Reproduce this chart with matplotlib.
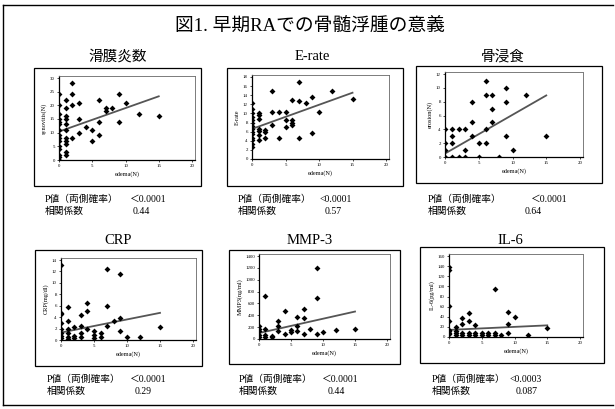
import numpy as np
import matplotlib
matplotlib.use("Agg")
import matplotlib.pyplot as plt
from matplotlib.patches import Rectangle
from matplotlib.lines import Line2D

W, H = 615, 409
plt.rcParams['font.family'] = ['Liberation Serif', 'Noto Sans CJK JP']

# --- data -------------------------------------------------------------
syn_x = [0, 0, 0, 0, 0, 0, 0, 0, 0, 0, 0, 0, 0, 0, 0,
         1, 1, 1, 1, 1, 1, 1, 1, 1, 1, 1,
         2, 2, 2, 2, 3, 3, 3, 4, 5, 5, 6, 6, 6, 7, 7, 8, 9, 9, 10, 12, 15]
syn_y = [24, 20, 17, 15, 14, 13, 11, 9, 8, 7, 5, 4, 2, 1, 0,
         22, 19, 16, 15, 13, 11, 8, 7, 6, 3, 2,
         28, 24, 20, 8, 21, 15, 10, 12, 11, 7, 22, 14, 9, 19, 18, 19, 24, 14, 21, 17, 16]

esr_x = [0, 0, 0, 0, 0, 0, 0, 0, 0, 0, 0, 0, 0, 0,
         1, 1, 1, 1, 1, 1, 1,
         2, 2, 2, 3, 3, 3, 4, 4, 5, 5, 5, 6, 6, 6, 6, 7, 7, 7, 8, 9, 9, 10, 12, 15]
esr_y = [12.4, 11, 10, 9.3, 8.5, 7.8, 7.2, 6.6, 6, 5.5, 4.7, 4.2, 3.4, 2.6,
         10, 9.7, 8.7, 6.6, 6.1, 5.3, 4.2,
         6.3, 6, 4.7, 14.9, 10.4, 7.4, 10.4, 4.7, 10.4, 8.5, 7.1, 13, 8.5, 7.8, 7.4,
         16.9, 12.8, 4.5, 12.2, 13.6, 5.8, 10.4, 14.9, 13.1]

ero_x = [0, 0, 0, 0, 1, 1, 1, 1, 2, 2, 3, 3, 3, 4, 4, 4, 5, 5,
         6, 6, 6, 6, 7, 7, 7, 8, 9, 9, 9, 10, 12, 15]
ero_y = [4, 2, 1, 0, 4, 3, 2, 0, 4, 0, 4, 1, 0, 8, 5, 3, 2, 0,
         11, 9, 4, 2, 9, 7, 5, 0, 10, 8, 3, 1, 9, 3]

crp_x = [0, 0, 0, 0, 0, 0, 0, 0, 1, 1, 1, 1, 1, 1, 2, 2, 2, 3, 3, 3, 3,
         4, 4, 4, 5, 5, 5, 6, 6, 7, 7, 7, 8, 9, 9, 9, 10, 12, 15]
crp_y = [13.1, 4.8, 4.5, 2.9, 1.9, 1.3, 0.7, 0.3, 5.8, 3.4, 2, 1.2, 0.5, 0.1,
         2.3, 0.7, 0.3, 4.3, 2.5, 1.3, 0.5, 6.4, 5.1, 1.9, 1.6, 0.9, 0.3,
         1.3, 0.5, 12.4, 6, 2.5, 3.4, 11.6, 3.9, 1.6, 0.5, 0.6, 2.2]

mmp_x = [0, 0, 0, 0, 0, 1, 1, 1, 1, 2, 2, 3, 3, 3, 4, 4, 5, 5,
         6, 6, 6, 7, 7, 7, 8, 9, 9, 9, 10, 12, 15]
mmp_y = [223, 173, 128, 73, 33, 725, 173, 73, 33, 56, 33, 312, 223, 140,
         474, 89, 156, 117, 379, 212, 140, 502, 357, 84, 173, 1205, 686, 89,
         123, 156, 173]

il6_x = [0, 0, 0, 0, 0, 0, 0, 0, 1, 1, 1, 1, 2, 2, 2, 2, 3, 3, 3, 3,
         4, 4, 4, 5, 5, 6, 6, 7, 7, 7, 8, 9, 9, 9, 10, 12, 15]
il6_y = [139, 132, 61, 31, 14, 11, 8, 5, 19, 11, 7, 4, 37, 26, 8, 4,
         47, 31, 8, 4, 23, 8, 4, 8, 4, 8, 4, 94, 8, 4, 3, 49, 26, 8, 39, 3, 17]

# trend lines read as (intercept, slope)
trends = [(10.4, 0.86), (6.6, 0.53), (0.5, 0.56), (1.3, 0.23), (100, 24.2), (14, 0.6)]

titles = ["滑膜炎数", "E-rate", "骨浸食", "CRP", "MMP-3", "IL-6"]
ylabels = ["synovitis(N)", "E-rate", "erosion(N)", "CRP(mg/dl)", "MMP3(ng/ml)", "IL-6(pg/ml)"]
p_values = ["＜0.0001", "<0.0001", "＜0.0001", "＜0.0001", "＜0.0001", "<0.0003"]
corr = ["0.44", "0.57", "0.64", "0.29", "0.44", "0.087"]
y_max = [30, 18, 12, 14, 1400, 160]
y_step = [5, 2, 2, 2, 200, 20]
series = [(syn_x, syn_y), (esr_x, esr_y), (ero_x, ero_y),
          (crp_x, crp_y), (mmp_x, mmp_y), (il6_x, il6_y)]

# --- layout in pixels -------------------------------------------------
# plot area: x of 0, x of 20, y of 0, y of ymax
plot_px = [(59, 192, 160, 78), (252, 386, 159, 77), (445, 580, 157, 74),
           (61, 193, 340, 260), (259, 387, 339, 256), (449, 580, 337, 256)]
box_px = [(34, 68, 201, 186), (227, 68, 403, 186), (416, 66, 602, 183),
          (35, 250, 202, 366), (229, 250, 400, 364), (420, 247, 604, 363)]
title_px = [(118, 57), (312, 57), (503, 57), (118, 240), (310, 240), (510, 240)]
stat_px = [(45, 130, 133, 199), (238, 319, 325, 199), (428, 531, 525, 199),
           (47, 130, 135, 379), (239, 322, 328, 379), (432, 509, 516, 379)]


def fx(px):
    return px / W


def fy(py):
    return 1 - py / H


fig = plt.figure(figsize=(W / 100, H / 100), dpi=100, facecolor='white')

# outer frame
for xs, ys in [([3, 3], [5, 405]), ([3, 613], [5, 5]), ([3, 613], [405, 405])]:
    fig.lines.append(Line2D([fx(v) for v in xs], [fy(v) for v in ys],
                            transform=fig.transFigure, color='k', lw=1.0))

fig.text(fx(310), fy(26), "図1. 早期RAでの骨髄浮腫の意義", fontsize=13.5,
         ha='center', va='center')

for i in range(6):
    x0, x20, y0, ytop = plot_px[i]
    ymax = y_max[i]
    w = (x20 - x0) / W * 20.5 / 20
    h = (y0 - ytop) / H * 1.025
    ax = fig.add_axes([fx(x0), fy(y0), w, h])
    ax.set_xlim(0, 20.5)
    ax.set_ylim(0, ymax * 1.025)

    xs, ys = series[i]
    ax.scatter(xs, ys, s=9, color='k', marker='D', linewidths=0, zorder=3)

    b, m = trends[i]
    lx = np.array([min(xs), max(xs)])
    ax.plot(lx, b + m * lx, color='#555555', lw=1.3, zorder=2)

    ax.set_xticks([0, 5, 10, 15, 20])
    ax.set_yticks(np.arange(0, ymax + y_step[i] / 2, y_step[i]))
    ax.tick_params(labelsize=3.5, length=1.5, width=0.5, pad=1.5)
    ax.set_xlabel("edema(N)", fontsize=4.5, labelpad=2)
    ax.set_ylabel(ylabels[i], fontsize=4.5, labelpad=2)
    for side in ['left', 'bottom']:
        ax.spines[side].set_linewidth(0.9)
    for side in ['top', 'right']:
        ax.spines[side].set_linewidth(0.6)
        ax.spines[side].set_linestyle((0, (1, 1)))
        ax.spines[side].set_color('#666666')

    bx0, by0, bx1, by1 = box_px[i]
    fig.patches.append(Rectangle((fx(bx0), fy(by1)), (bx1 - bx0) / W, (by1 - by0) / H,
                                 transform=fig.transFigure, fill=False,
                                 ec='k', lw=0.9))

    tx, ty = title_px[i]
    fig.text(fx(tx), fy(ty), titles[i], fontsize=10.5, ha='center', va='center')

    sx, px_val, cx_val, sy = stat_px[i]
    fig.text(fx(sx), fy(sy), "P値（両側確率）", fontsize=7, ha='left', va='center')
    fig.text(fx(px_val), fy(sy), p_values[i], fontsize=7, ha='left', va='center')
    fig.text(fx(sx), fy(sy + 12), "相関係数", fontsize=7, ha='left', va='center')
    fig.text(fx(cx_val), fy(sy + 12), corr[i], fontsize=7, ha='left', va='center')

fig.savefig("out.png", dpi=100, facecolor='white')
